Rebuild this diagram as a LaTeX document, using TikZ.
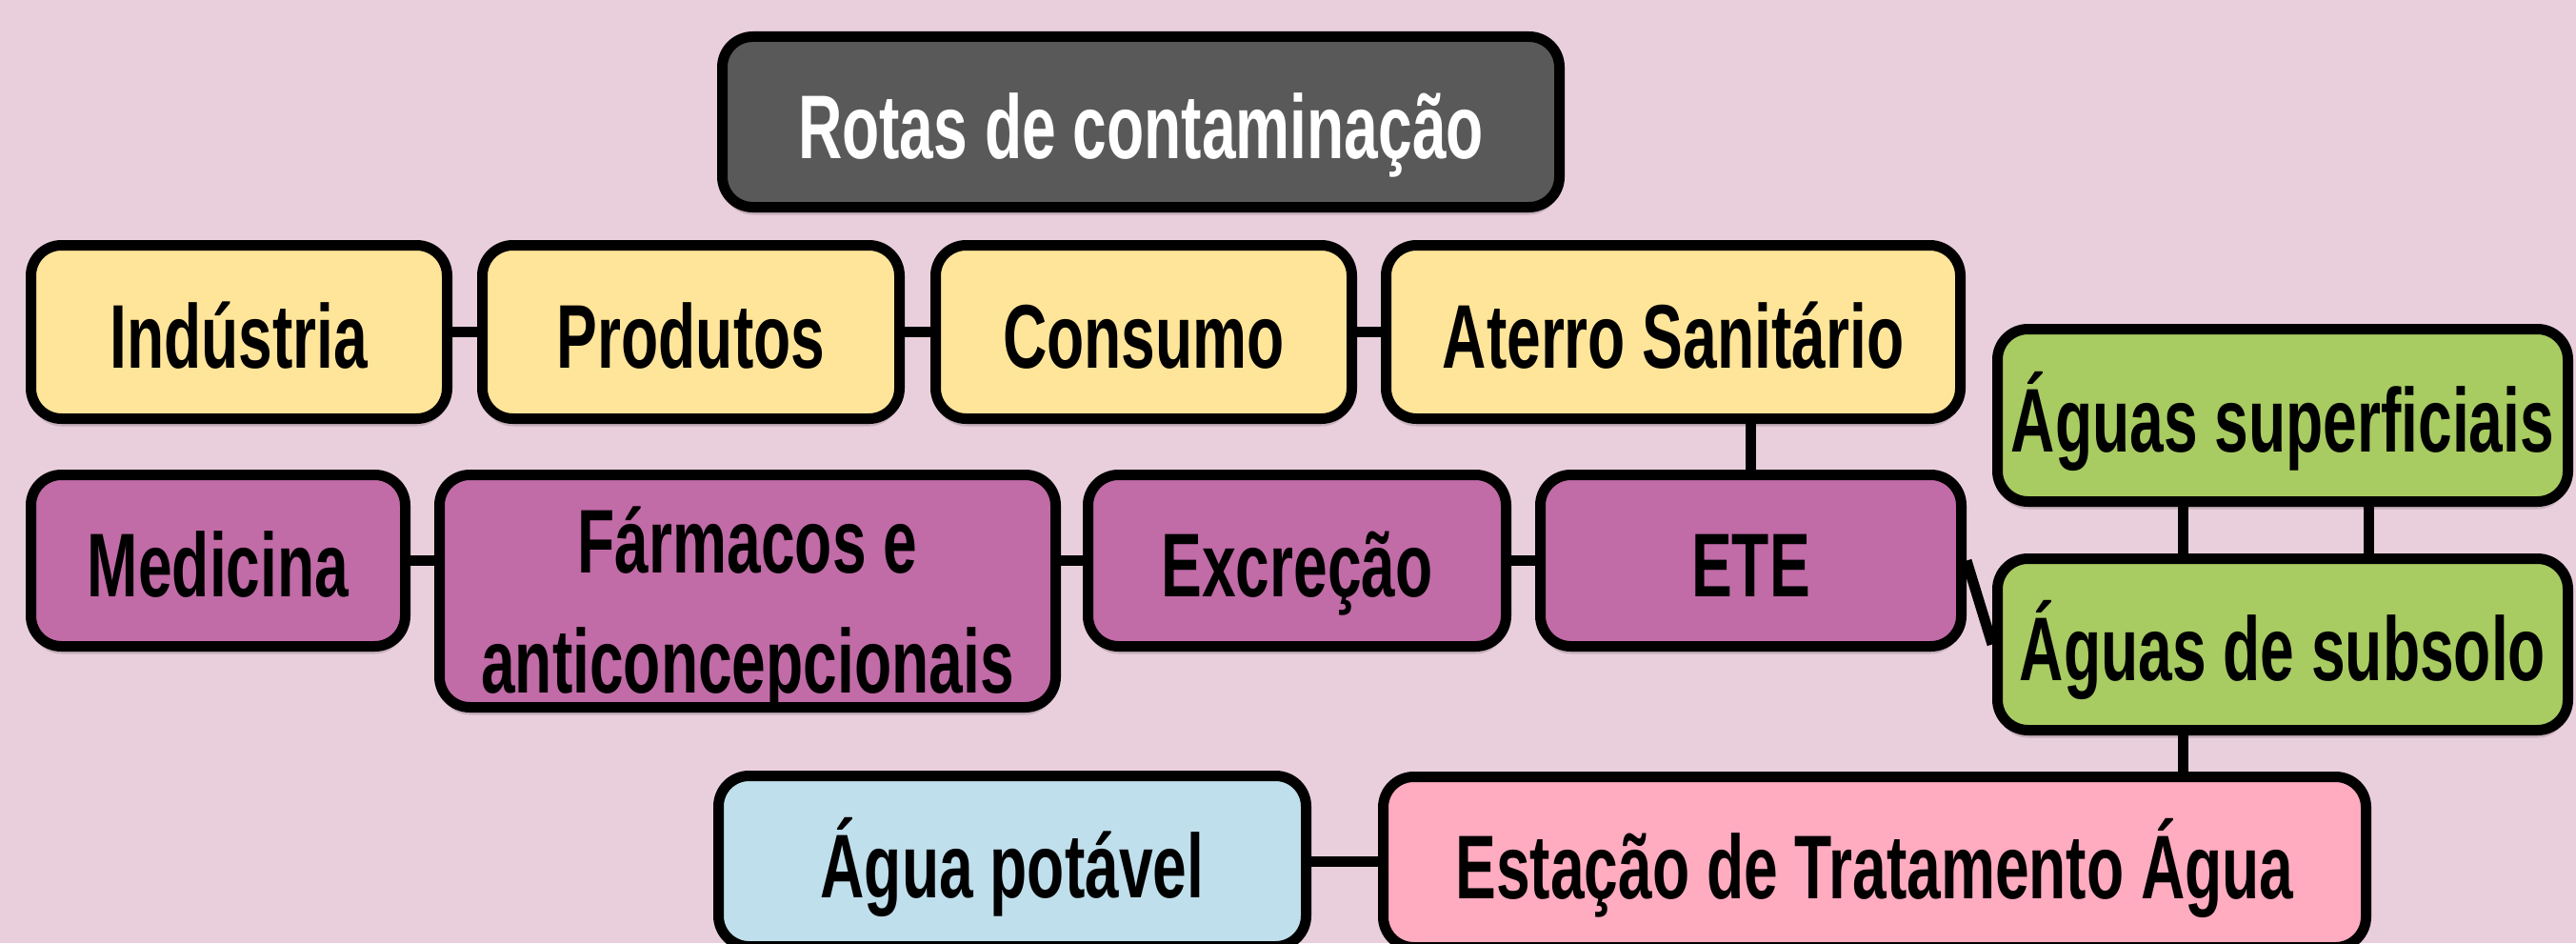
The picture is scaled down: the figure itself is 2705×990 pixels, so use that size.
\documentclass[tikz,border=0pt]{standalone}
\usepackage{fontspec}
\newfontfamily\dinfont[FakeStretch=0.675]{Liberation Sans Bold}
\usetikzlibrary{shadows}
\definecolor{bg}{HTML}{E9CFDC}
\definecolor{titlegrey}{HTML}{595959}
\definecolor{ylw}{HTML}{FFE599}
\definecolor{prp}{HTML}{C16BA7}
\definecolor{grn}{HTML}{A8CB62}
\definecolor{lblue}{HTML}{C0DFEC}
\definecolor{pnk}{HTML}{FFABC0}
\pgfdeclarelayer{back}
\pgfdeclarelayer{links}
\pgfsetlayers{back,links,main}
\tikzset{
  txt/.style={font=\dinfont\fontsize{95}{125}\selectfont},
  box/.style={txt, draw=black, line width=11pt, rounded corners=32pt, inner sep=0pt,
    minimum height=180pt, text height=76pt, text depth=0pt,
    drop shadow={shadow xshift=0pt, shadow yshift=-8pt, opacity=0.15, fill=black}},
  link/.style={draw=black, line width=11pt}
}
\begin{document}
\begin{tikzpicture}[x=1pt,y=-1pt]
\useasboundingbox (0,0) rectangle (2705,990);
\begin{pgfonlayer}{back}
\fill[bg] (0,0) rectangle (2705,990);
\end{pgfonlayer}

\node[box, fill=titlegrey, text=white, minimum width=879pt, minimum height=179pt] (title) at (1198,128) {Rotas de contaminação};

\node[box, fill=ylw, minimum width=437pt, minimum height=182pt] (ind) at (251,348.5) {Indústria};
\node[box, fill=ylw, minimum width=438pt, minimum height=182pt] (prod) at (725.5,348.5) {Produtos};
\node[box, fill=ylw, minimum width=437pt, minimum height=182pt] (cons) at (1201,348.5) {Consumo};
\node[box, fill=ylw, minimum width=603pt, minimum height=182pt] (aterro) at (1757,348.5) {Aterro Sanitário};

\node[box, fill=prp, minimum width=393pt] (med) at (229,588.5) {Medicina};
\node[box, fill=prp, minimum width=647pt, minimum height=244pt] (farm) at (785,620.5) {};
\node[txt, anchor=base, inner sep=0pt] (farm1) at (785,601) {Fármacos e};
\node[txt, anchor=base, inner sep=0pt] (farm2) at (785,727) {anticoncepcionais};
\node[box, fill=prp, minimum width=439pt] (excr) at (1362,588.5) {Excreção};
\node[box, fill=prp, minimum width=442pt] (ete) at (1838.5,588.5) {ETE};

\node[box, fill=grn, minimum width=599pt, minimum height=181pt] (sup) at (2397,436) {Águas superficiais};
\node[box, fill=grn, minimum width=599pt] (sub) at (2397,676.5) {Águas de subsolo};

\node[box, fill=lblue, minimum width=617pt, minimum height=179pt] (agua) at (1063,904) {Água potável};
\node[box, fill=pnk, minimum width=1032pt, minimum height=179pt] (eta) at (1968.5,905) {Estação de Tratamento Água};

\path (sup.south) ++(-105,0) coordinate (s1);
\path (sup.south) ++(90.5,0) coordinate (s2);

\begin{pgfonlayer}{links}
\draw[link] (ind.east) -- (prod.west);
\draw[link] (prod.east) -- (cons.west);
\draw[link] (cons.east) -- (aterro.west);
\draw[link] (med.east) -- (med.east -| farm.west);
\draw[link] (excr.west) -- (excr.west -| farm.east);
\draw[link] (excr.east) -- (ete.west);
\draw[link] (ete.north) -- (ete.north |- aterro.south);
\draw[link] (ete.east) -- (sub.west);
\draw[link] (s1) -- (s1 |- sub.north);
\draw[link] (s2) -- (s2 |- sub.north);
\draw[link] (s1 |- sub.south) -- (s1 |- eta.north);
\draw[link] (agua.east) -- (agua.east -| eta.west);
\end{pgfonlayer}
\end{tikzpicture}
\end{document}
